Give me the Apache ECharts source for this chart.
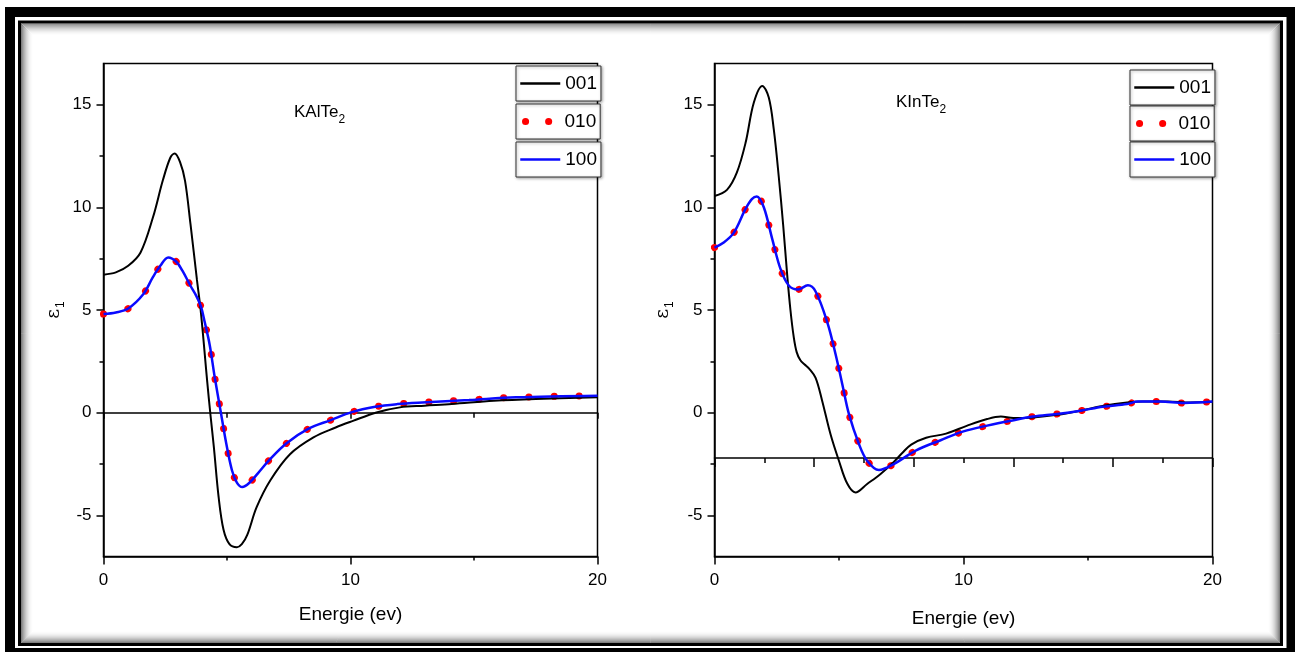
<!DOCTYPE html>
<html>
<head>
<meta charset="utf-8">
<title>ε1 – KAlTe2 / KInTe2</title>
<script src="https://cdn.jsdelivr.net/npm/echarts@6/dist/echarts.min.js"></script>
<style>
  html, body { margin: 0; padding: 0; background: #fff; }
  #chart { width: 1295px; height: 652px; }
</style>
</head>
<body>
<div id="chart"></div>
<script>
// Real part of the dielectric function ε1 versus photon energy (eV)
// for the three polarisation directions 001, 010 and 100.

const seriesNames = ['001', '010', '100'];
const compounds = ['KAlTe', 'KInTe'];

// KAlTe2
const kalte001 = [[0,6.72],[0.5,6.83],[1.0,7.15],[1.5,7.8],[2.0,9.5],[2.4,11.3],[2.7,12.4],[2.88,12.62],[3.1,12.2],[3.3,11.3],[3.52,9.2],[3.78,6.5],[3.95,4.8],[4.2,1.5],[4.33,-0.1],[4.47,-1.7],[4.66,-4.1],[4.86,-5.7],[5.1,-6.4],[5.4,-6.55],[5.6,-6.4],[5.82,-5.95],[6.2,-4.6],[6.75,-3.3],[7.55,-2.02],[8.5,-1.2],[9.4,-0.72],[10.1,-0.4],[11.05,0.01],[12.0,0.26],[13.0,0.34],[14.1,0.42],[15.8,0.58],[17.5,0.67],[20,0.75]];
const kalte010 = [[0,4.8],[0.5,4.88],[1.0,5.07],[1.6,5.75],[2.0,6.6],[2.3,7.15],[2.62,7.56],[2.95,7.35],[3.2,6.9],[3.52,6.18],[3.75,5.7],[3.95,5.15],[4.1,4.4],[4.3,3.3],[4.5,1.75],[4.76,-0.05],[4.97,-1.5],[5.2,-2.8],[5.4,-3.4],[5.62,-3.62],[5.9,-3.42],[6.25,-2.95],[6.7,-2.32],[7.4,-1.5],[8.3,-0.78],[9.2,-0.36],[10.05,0.03],[11.0,0.29],[11.9,0.42],[12.9,0.5],[14.8,0.62],[16.7,0.75],[20,0.83]];
const kalte100 = [[0,4.8],[0.5,4.88],[1.0,5.07],[1.6,5.75],[2.0,6.6],[2.3,7.15],[2.62,7.56],[2.95,7.35],[3.2,6.9],[3.52,6.18],[3.75,5.7],[3.95,5.15],[4.1,4.4],[4.3,3.3],[4.5,1.75],[4.76,-0.05],[4.97,-1.5],[5.2,-2.8],[5.4,-3.4],[5.62,-3.62],[5.9,-3.42],[6.25,-2.95],[6.7,-2.32],[7.4,-1.5],[8.3,-0.78],[9.2,-0.36],[10.05,0.03],[11.0,0.29],[11.9,0.42],[12.9,0.5],[14.8,0.62],[16.7,0.75],[20,0.83]];

// KInTe2
const kinte001 = [[0,10.55],[0.5,10.85],[0.9,11.7],[1.25,13.15],[1.58,15.1],[1.92,15.91],[2.18,15.34],[2.38,13.8],[2.58,11.5],[2.76,9.1],[2.92,6.7],[3.05,5.0],[3.18,3.7],[3.3,2.95],[3.45,2.55],[3.62,2.35],[3.8,2.15],[4.06,1.7],[4.32,0.6],[4.66,-1.05],[5.0,-2.35],[5.33,-3.45],[5.66,-3.88],[6.13,-3.47],[6.67,-2.98],[7.2,-2.4],[7.55,-1.95],[7.9,-1.55],[8.5,-1.22],[9.3,-1.02],[10.15,-0.63],[10.95,-0.31],[11.5,-0.19],[12.0,-0.26],[12.8,-0.23],[13.76,-0.1],[14.7,0.1],[15.63,0.34],[16.57,0.5],[17.2,0.55],[18.2,0.55],[19.1,0.5],[20,0.53]];
const kinte010 = [[0,8.04],[0.37,8.29],[0.78,8.77],[1.24,9.91],[1.5,10.4],[1.7,10.53],[1.98,10.0],[2.32,8.45],[2.65,7.0],[2.99,6.18],[3.35,6.0],[3.75,6.2],[4.06,5.9],[4.53,4.4],[4.86,2.86],[5.13,1.4],[5.4,-0.07],[5.8,-1.52],[6.13,-2.34],[6.6,-2.79],[7.2,-2.5],[8.1,-1.83],[9.08,-1.34],[10.0,-0.91],[10.95,-0.63],[11.9,-0.39],[12.8,-0.19],[13.76,-0.06],[14.7,0.1],[15.6,0.29],[16.57,0.42],[17.0,0.54],[17.9,0.54],[18.85,0.47],[20,0.54]];
const kinte100 = [[0,8.04],[0.37,8.29],[0.78,8.77],[1.24,9.91],[1.5,10.4],[1.7,10.53],[1.98,10.0],[2.32,8.45],[2.65,7.0],[2.99,6.18],[3.35,6.0],[3.75,6.2],[4.06,5.9],[4.53,4.4],[4.86,2.86],[5.13,1.4],[5.4,-0.07],[5.8,-1.52],[6.13,-2.34],[6.6,-2.79],[7.2,-2.5],[8.1,-1.83],[9.08,-1.34],[10.0,-0.91],[10.95,-0.63],[11.9,-0.39],[12.8,-0.19],[13.76,-0.06],[14.7,0.1],[15.6,0.29],[16.57,0.42],[17.0,0.54],[17.9,0.54],[18.85,0.47],[20,0.54]];

// axis ranges and tick values
const xRange = [0, 20];
const yRange = [-7, 17];
const yTickValues = [-5, 0, 5, 10, 15];
const yMinorTickValues = [-2.5, 2.5, 7.5, 12.5];
// horizontal reference line drawn inside each panel (ε1 level)
const refLineValues = [0, -2.2];
const refTickInterval = [10, 4];

const panelData = [
  [kalte001, kalte010, kalte100],
  [kinte001, kinte010, kinte100]
];

const FONT = "'Liberation Sans Narrow','Arial Narrow','Liberation Sans',Arial,sans-serif";

// layout of the two panels
const grids = [
  { left: 103.5, top: 63.5, width: 494, height: 493 },
  { left: 714.5, top: 63.5, width: 498, height: 493 }
];
const titlePos = [{ left: 294, top: 104 }, { left: 896, top: 94 }];
const legendPos = [
  { left: 516, tops: [66, 104, 142] },
  { left: 1130, tops: [70, 106, 142] }
];
const xNameGap = [49, 53];
const yNameGap = [40, 42];

const chart = echarts.init(document.getElementById('chart'), null, { renderer: 'canvas' });

const option = {
  backgroundColor: '#ffffff',
  animation: false,
  grid: grids.map(g => Object.assign({ show: true, borderColor: '#000', borderWidth: 1.5, backgroundColor: 'transparent' }, g)),
  title: compounds.map((c, i) => ({
    text: '{m|' + c + '}{s|2}',
    left: titlePos[i].left,
    top: titlePos[i].top,
    padding: 0,
    textStyle: {
      fontWeight: 'normal',
      rich: {
        m: { fontFamily: FONT, fontSize: 17, fontWeight: 'normal', color: '#000', verticalAlign: 'top', lineHeight: 18 },
        s: { fontFamily: FONT, fontSize: 12, fontWeight: 'normal', color: '#000', verticalAlign: 'top', lineHeight: 12, padding: [10, 0, 0, 0] }
      }
    }
  })),
  legend: [],
  xAxis: [],
  yAxis: [],
  series: [],
  graphic: []
};

const lineStyles = [
  { color: '#000000', width: 2 },
  { color: '#ff0000', width: 7, type: [0.1, 25], cap: 'round' },
  { color: '#0a0aff', width: 2.5 }
];
const legendLineStyles = [
  { color: '#000000', width: 2.5 },
  { color: '#ff0000', width: 7, type: [0.1, 23], cap: 'round', dashOffset: -3 },
  { color: '#0a0aff', width: 2.5 }
];
const legendItemWidths = [40, 37, 40];

grids.forEach((g, gi) => {
  // main bottom axis
  option.xAxis.push({
    type: 'value', gridIndex: gi, min: xRange[0], max: xRange[1], interval: 10,
    name: 'Energie (ev)', nameLocation: 'middle', nameGap: xNameGap[gi],
    nameTextStyle: { fontFamily: FONT, fontSize: 19, color: '#000' },
    axisLine: { show: true, onZero: false, lineStyle: { color: '#000', width: 1.5 } },
    axisTick: { show: true, inside: false, length: 8, lineStyle: { color: '#000', width: 1.5 } },
    minorTick: { show: true, splitNumber: 2, length: 4, lineStyle: { color: '#000', width: 1.5 } },
    axisLabel: { fontFamily: FONT, fontSize: 17, color: '#000', margin: 15 },
    splitLine: { show: false }, minorSplitLine: { show: false }
  });
  // horizontal reference line with its own ticks
  const offset = -(refLineValues[gi] - yRange[0]) / (yRange[1] - yRange[0]) * g.height;
  option.xAxis.push({
    type: 'value', gridIndex: gi, min: xRange[0], max: xRange[1], interval: refTickInterval[gi],
    position: 'bottom', offset: offset,
    axisLine: { show: true, onZero: false, lineStyle: { color: '#000', width: 1.5 } },
    axisTick: { show: true, inside: false, length: gi === 0 ? 6 : 9, lineStyle: { color: '#000', width: 1.5 } },
    minorTick: { show: true, splitNumber: 2, length: 5, lineStyle: { color: '#000', width: 1.5 } },
    axisLabel: { show: false },
    splitLine: { show: false }, minorSplitLine: { show: false }
  });
  // main left axis
  option.yAxis.push({
    type: 'value', gridIndex: gi, min: yRange[0], max: yRange[1],
    name: '{e|ε}{s|1}', nameLocation: 'middle', nameGap: yNameGap[gi], nameRotate: 90,
    nameTextStyle: {
      rich: {
        e: { fontFamily: "'DejaVu Serif','Liberation Serif',serif", fontSize: 19, color: '#000', verticalAlign: 'top', lineHeight: 19 },
        s: { fontFamily: FONT, fontSize: 12, color: '#000', verticalAlign: 'top', lineHeight: 12, padding: [10, 0, 0, 1] }
      }
    },
    axisLine: { show: true, onZero: false, lineStyle: { color: '#000', width: 1.5 } },
    axisTick: { show: true, inside: false, length: 7, customValues: yTickValues, lineStyle: { color: '#000', width: 1.5 } },
    axisLabel: { fontFamily: FONT, fontSize: 17, color: '#000', margin: 12, customValues: yTickValues },
    splitLine: { show: false }
  });
  // minor ticks on the left axis
  option.yAxis.push({
    type: 'value', gridIndex: gi, min: yRange[0], max: yRange[1], position: 'left',
    axisLine: { show: false },
    axisTick: { show: true, inside: false, length: 4, customValues: yMinorTickValues, lineStyle: { color: '#000', width: 1.5 } },
    axisLabel: { show: false },
    splitLine: { show: false }
  });

  const xIdx = gi * 2;
  const yIdx = gi * 2;
  seriesNames.forEach((name, si) => {
    option.series.push({
      name: name, type: 'line', xAxisIndex: xIdx, yAxisIndex: yIdx,
      data: panelData[gi][si], smooth: 0.35, symbol: 'none', showSymbol: false,
      lineStyle: lineStyles[si], itemStyle: { color: lineStyles[si].color },
      z: 2 + (si === 0 ? 1 : si === 1 ? 0 : 2)
    });
  });

  // one boxed entry per direction
  seriesNames.forEach((name, si) => {
    option.legend.push({
      data: [name], orient: 'vertical', selectedMode: false,
      left: legendPos[gi].left, top: legendPos[gi].tops[si],
      padding: [6, 4, 6, 3], itemWidth: legendItemWidths[si], itemHeight: 14,
      itemStyle: { opacity: 0 },
      lineStyle: legendLineStyles[si],
      backgroundColor: '#fff', borderColor: '#333', borderWidth: 1,
      shadowColor: 'rgba(0,0,0,0.35)', shadowBlur: 3, shadowOffsetX: 1, shadowOffsetY: 1,
      textStyle: { fontFamily: FONT, fontSize: 19, color: '#000', lineHeight: 23 }
    });
  });
});

// picture frame: thick outer band, thin inner rule, soft inner shadow
option.graphic.push({ type: 'rect', silent: true, z: 100, shape: { x: 10, y: 12, width: 1281.5, height: 641 }, style: { fill: null, stroke: '#000', lineWidth: 10 } });
option.graphic.push({ type: 'rect', silent: true, z: 100, shape: { x: 19.5, y: 22, width: 1262, height: 622.5 }, style: { fill: null, stroke: '#000', lineWidth: 3 } });
const innerL = 21, innerT = 23.5, innerR = 1280, innerB = 643;
for (let i = 0; i < 12; i++) {
  const a = 0.5 * Math.pow(1 - i / 12, 2);
  option.graphic.push({
    type: 'rect', silent: true, z: 99,
    shape: { x: innerL + i + 0.5, y: innerT + i + 0.5, width: innerR - innerL - 2 * i - 1, height: innerB - innerT - 2 * i - 1 },
    style: { fill: null, stroke: 'rgba(0,0,0,' + a.toFixed(3) + ')', lineWidth: 1 }
  });
}

chart.setOption(option);
</script>
</body>
</html>
